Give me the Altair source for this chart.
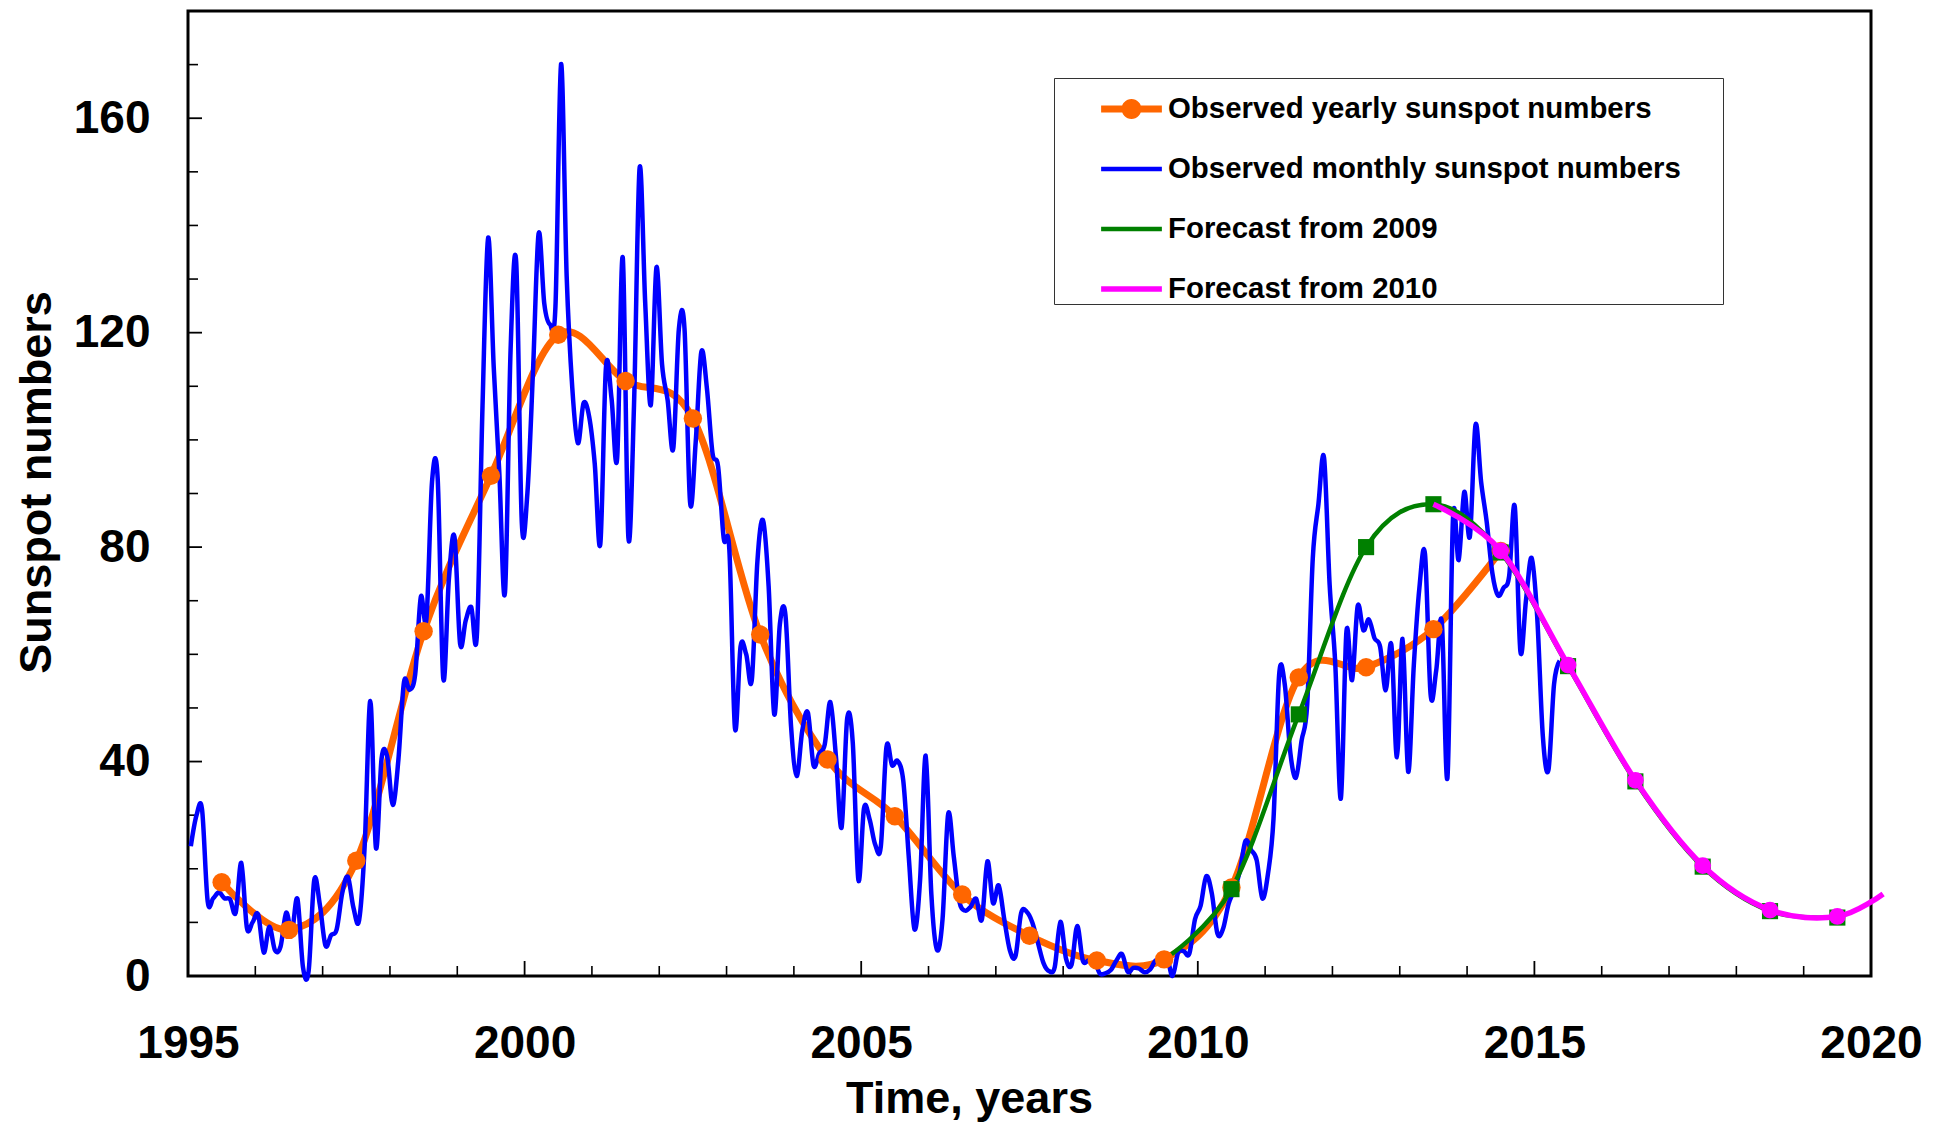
import altair as alt
import pandas as pd

# ---------------- data ----------------
yearly_years = [1995.5, 1996.5, 1997.5, 1998.5, 1999.5, 2000.5, 2001.5, 2002.5, 2003.5, 2004.5,
                2005.5, 2006.5, 2007.5, 2008.5, 2009.5, 2010.5, 2011.5, 2012.5, 2013.5, 2014.5]
yearly_values = [17.5, 8.6, 21.5, 64.3, 93.3, 119.6, 111.0, 104.0, 63.7, 40.4,
                 29.8, 15.2, 7.5, 2.9, 3.1, 16.5, 55.7, 57.6, 64.7, 79.3]

monthly_start_year = 1995
monthly_values = [
    # 1995
    24.2, 29.9, 31.1, 14.0, 14.5, 15.6, 14.5, 14.3, 11.8, 21.1, 9.0, 10.0,
    # 1996
    11.5, 4.4, 9.2, 4.8, 5.5, 11.8, 8.2, 14.4, 1.6, 0.9, 17.9, 13.3,
    # 1997
    5.7, 7.6, 8.7, 15.5, 18.5, 12.7, 10.4, 24.4, 51.3, 23.9, 40.5, 41.0,
    # 1998
    31.9, 40.3, 54.8, 53.4, 56.3, 70.7, 66.6, 92.2, 92.9, 55.5, 74.0, 81.9,
    # 1999
    62.0, 66.3, 68.8, 63.7, 106.4, 137.7, 113.5, 93.7, 71.5, 116.7, 133.2, 84.6,
    # 2000
    90.1, 112.9, 138.5, 125.5, 121.6, 124.9, 170.1, 130.5, 109.7, 99.4, 106.8, 104.4,
    # 2001
    95.6, 80.6, 113.5, 107.7, 96.6, 134.0, 81.8, 106.4, 150.7, 125.5, 106.5, 132.2,
    # 2002
    114.1, 107.4, 98.4, 120.7, 120.8, 88.3, 99.6, 116.4, 109.6, 97.5, 95.0, 81.6,
    # 2003
    79.5, 46.2, 61.5, 60.0, 55.2, 77.4, 85.0, 72.7, 48.8, 65.6, 67.3, 46.5,
    # 2004
    37.3, 45.8, 49.1, 39.3, 41.5, 43.2, 51.1, 40.9, 27.7, 48.0, 43.5, 17.9,
    # 2005
    31.3, 29.2, 24.5, 24.2, 42.7, 39.3, 40.1, 36.4, 21.9, 8.7, 18.0, 41.1,
    # 2006
    15.3, 4.9, 10.6, 30.2, 22.3, 13.9, 12.2, 12.9, 14.4, 10.5, 21.4, 13.6,
    # 2007
    16.9, 10.6, 4.8, 3.7, 11.7, 12.0, 10.0, 6.2, 2.4, 0.9, 1.7, 10.1,
    # 2008
    3.3, 2.1, 9.3, 2.9, 2.9, 3.1, 0.5, 0.5, 1.1, 2.9, 4.1, 0.8,
    # 2009
    1.5, 1.4, 0.7, 1.2, 2.9, 2.6, 3.5, 0.0, 4.4, 4.6, 4.2, 10.6,
    # 2010
    13.1, 18.6, 15.4, 7.9, 8.8, 13.5, 16.1, 19.6, 25.2, 23.5, 21.6, 14.5,
    # 2011
    19.0, 29.4, 56.2, 54.4, 41.6, 37.0, 43.9, 50.6, 78.0, 88.0, 96.7, 73.0,
    # 2012
    58.3, 33.1, 64.3, 55.2, 69.0, 64.5, 66.5, 63.0, 61.4, 53.3, 61.8, 40.8,
    # 2013
    62.9, 38.1, 57.9, 72.4, 78.7, 52.5, 57.0, 66.0, 37.0, 85.6, 77.6, 90.3,
    # 2014
    82.0, 102.8, 92.2, 84.7, 75.2, 71.0, 72.4, 74.6, 87.6, 60.6, 70.1, 78.0,
    # 2015
    67.0, 44.8, 38.4, 54.4, 58.8,
]

f2009_years = [2009.5, 2010.5, 2011.5, 2012.5, 2013.5, 2014.5, 2015.5, 2016.5, 2017.5, 2018.5, 2019.5]
f2009_values = [3.1, 16.2, 48.8, 80.0, 88.0, 79.0, 57.8, 36.3, 20.4, 12.1, 10.9]
f2009_marker_years = [2010.5, 2011.5, 2012.5, 2013.5, 2014.5, 2015.5, 2016.5, 2017.5, 2018.5, 2019.5]

f2010_years = [2013.5, 2014.5, 2015.5, 2016.5, 2017.5, 2018.5, 2019.5, 2020.18]
f2010_values = [88.0, 79.3, 58.0, 36.5, 20.6, 12.3, 11.1, 15.3]
f2010_marker_years = [2014.5, 2015.5, 2016.5, 2017.5, 2018.5, 2019.5]

x_label_values = [1995, 2000, 2005, 2010, 2015, 2020]
x_minor_ticks = [y for y in range(1996, 2020) if y % 5 != 0]
x_major_ticks = [2000, 2005, 2010, 2015]
y_label_values = [0, 40, 80, 120, 160]
y_minor_ticks = [v for v in range(10, 180, 10) if v % 40 != 0]
y_major_ticks = [40, 80, 120, 160]

series_names = ["Observed yearly sunspot numbers", "Observed monthly sunspot numbers",
                "Forecast from 2009", "Forecast from 2010"]
series_colors = ["#FF6600", "#0000FF", "#008000", "#FF00FF"]

# ---------------- tables ----------------
yearly_df = pd.DataFrame({"year": yearly_years, "value": yearly_values})
monthly_df = pd.DataFrame({
    "year": [monthly_start_year + i // 12 + ((i % 12) + 0.5) / 12 for i in range(len(monthly_values))],
    "value": monthly_values,
})
f2009_df = pd.DataFrame({"year": f2009_years, "value": f2009_values})
f2009_mk = f2009_df[f2009_df["year"].isin(f2009_marker_years)]
f2010_df = pd.DataFrame({"year": f2010_years, "value": f2010_values})
f2010_mk = f2010_df[f2010_df["year"].isin(f2010_marker_years)]
legend_df = pd.DataFrame({"series": series_names, "year": [2000.0] * 4, "value": [50.0] * 4})

W, H = 1683, 965
FONT = "Liberation Sans"

xscale = alt.Scale(domain=[1995, 2020], nice=False, zero=False)
yscale = alt.Scale(domain=[0, 180], nice=False, zero=True)

x_axis = alt.Axis(values=x_label_values, format="d", ticks=False, domain=False, grid=False,
                  labelFont=FONT, labelFontSize=46, labelFontWeight="bold", labelColor="black",
                  labelPadding=45, labelFlush=False, labelOverlap=False,
                  titleFont=FONT, titleFontSize=45, titleFontWeight="bold", titleColor="black",
                  titleX=781, titleY=100, titleAlign="center", titleBaseline="top")
y_axis = alt.Axis(values=y_label_values, format="d", ticks=False, domain=False, grid=False,
                  labelFont=FONT, labelFontSize=46, labelFontWeight="bold", labelColor="black",
                  labelPadding=38, labelFlush=False, labelOverlap=False,
                  titleFont=FONT, titleFontSize=45, titleFontWeight="bold", titleColor="black",
                  titleX=-138, titleY=471, titleAngle=270, titleAlign="center",
                  titleBaseline="alphabetic")

X = alt.X("year:Q", scale=xscale, axis=x_axis, title="Time, years")
Y = alt.Y("value:Q", scale=yscale, axis=y_axis, title="Sunspot numbers")


def line(df, color, width, interp="cardinal"):
    return alt.Chart(df).mark_line(color=color, strokeWidth=width, interpolate=interp,
                                   clip=False).encode(x=X, y=Y)


orange_line = line(yearly_df, "#FF6600", 7)
blue_line = line(monthly_df, "#0000FF", 4.5)
green_line = line(f2009_df, "#008000", 4.5)
magenta_line = line(f2010_df, "#FF00FF", 5.5)

orange_pts = alt.Chart(yearly_df).mark_circle(color="#FF6600", size=340, opacity=1).encode(x=X, y=Y)
green_pts = alt.Chart(f2009_mk).mark_square(color="#008000", size=260, opacity=1).encode(x=X, y=Y)
magenta_pts = alt.Chart(f2010_mk).mark_circle(color="#FF00FF", size=280, opacity=1).encode(x=X, y=Y)

# inside ticks
xt_minor = alt.Chart(pd.DataFrame({"year": x_minor_ticks})).mark_rule(color="black", strokeWidth=1.6).encode(
    x=X, y=alt.value(H), y2=alt.value(H - 10))
xt_major = alt.Chart(pd.DataFrame({"year": x_major_ticks})).mark_rule(color="black", strokeWidth=1.8).encode(
    x=X, y=alt.value(H), y2=alt.value(H - 15))
yt_minor = alt.Chart(pd.DataFrame({"value": y_minor_ticks})).mark_rule(color="black", strokeWidth=1.6).encode(
    y=Y, x=alt.value(0), x2=alt.value(10))
yt_major = alt.Chart(pd.DataFrame({"value": y_major_ticks})).mark_rule(color="black", strokeWidth=1.8).encode(
    y=Y, x=alt.value(0), x2=alt.value(14))

# legend symbols (unit coordinates, scaled by the symbol size; unit = 31 px)
def bar_path(h):
    return f"M0.52,{-h}H2.48V{h}H0.52Z"

cx, r = 1.5, 0.32
orange_sym = bar_path(0.113) + f" M{cx + r},0A{r},{r},0,1,1,{cx - r},0A{r},{r},0,1,1,{cx + r},0Z"
legend_shapes = [orange_sym, bar_path(0.073), bar_path(0.073), bar_path(0.089)]

leg = alt.Legend(title=None, orient="none", legendX=866, legendY=67, padding=0,
                 strokeColor="#333333", fillColor="white",
                 labelFont=FONT, labelFontSize=29.4, labelFontWeight="bold", labelColor="black",
                 labelLimit=2000, labelOffset=52, symbolSize=3844, symbolStrokeWidth=0,
                 symbolOpacity=1, rowPadding=14,
                 labelExpr="datum.label + '\u2800\u2800'")

legend_layer = alt.Chart(legend_df).mark_point(filled=True, opacity=1).encode(
    x=X, y=Y,
    color=alt.Color("series:N", scale=alt.Scale(domain=series_names, range=series_colors), legend=leg),
    shape=alt.Shape("series:N", scale=alt.Scale(domain=series_names, range=legend_shapes), legend=leg),
).transform_filter("false")

chart = alt.layer(
    xt_minor, xt_major, yt_minor, yt_major,
    orange_line, blue_line, green_line, orange_pts, green_pts, magenta_line, magenta_pts,
    legend_layer,
).properties(
    width=W, height=H,
    padding={"left": 188, "top": 11, "right": 74, "bottom": 146},
    autosize=alt.AutoSizeParams(type="none"),
    background="white",
).configure_view(
    stroke="black", strokeWidth=3
)

chart.save("out.html", embed_options={"renderer": "svg", "actions": False})
